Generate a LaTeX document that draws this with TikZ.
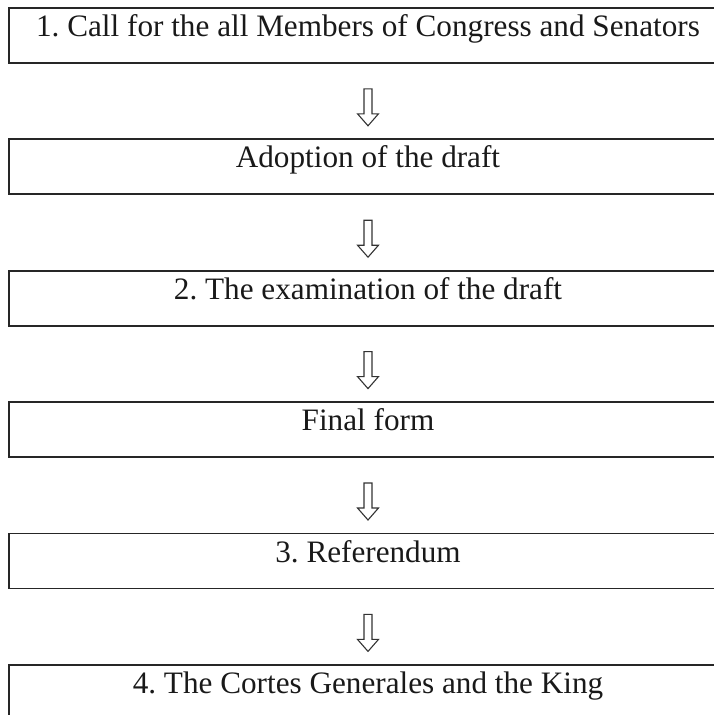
\documentclass[tikz,border=0pt]{standalone}
\usepackage{fontspec}
\setmainfont{Liberation Serif}
\usetikzlibrary{calc}
\frenchspacing
\begin{document}
\begin{tikzpicture}[x=1pt,y=-1pt,
  stagebox/.style={draw=black!85, line width=1.8pt, rectangle, minimum width=718pt,
    inner xsep=0pt, inner ysep=0pt, text height=28.5pt, text depth=26.5pt,
    font=\fontsize{31.2}{33}\selectfont, text=black!90, anchor=north},
  hollowarrow/.style={draw=black!80, line width=1.1pt, line join=miter, fill=white}]
\useasboundingbox (0,0) rectangle (713,715);
\node[stagebox] (b1) at (368,7) {1. Call for the all Members of Congress and Senators};
\node[stagebox] (b2) at (368,138.4) {Adoption of the draft};
\node[stagebox] (b3) at (368,269.8) {2. The examination of the draft};
\node[stagebox] (b4) at (368,401.2) {Final form};
\node[stagebox] (b5) at (368,532.6) {3. Referendum};
\node[stagebox] (b6) at (368,664) {4. The Cortes Generales and the King};
\foreach \a/\b in {b1/b2,b2/b3,b3/b4,b4/b5,b5/b6}{
  \coordinate (s-\a) at ([yshift=-25pt]\a.south);
  \draw[hollowarrow] (s-\a) -- ++(-4,0) -- ++(0,25) -- ++(-6.5,0) -- ++(10.5,12)
    -- ++(10.5,-12) -- ++(-6.5,0) -- ++(0,-25) -- cycle;
}
\end{tikzpicture}
\end{document}
